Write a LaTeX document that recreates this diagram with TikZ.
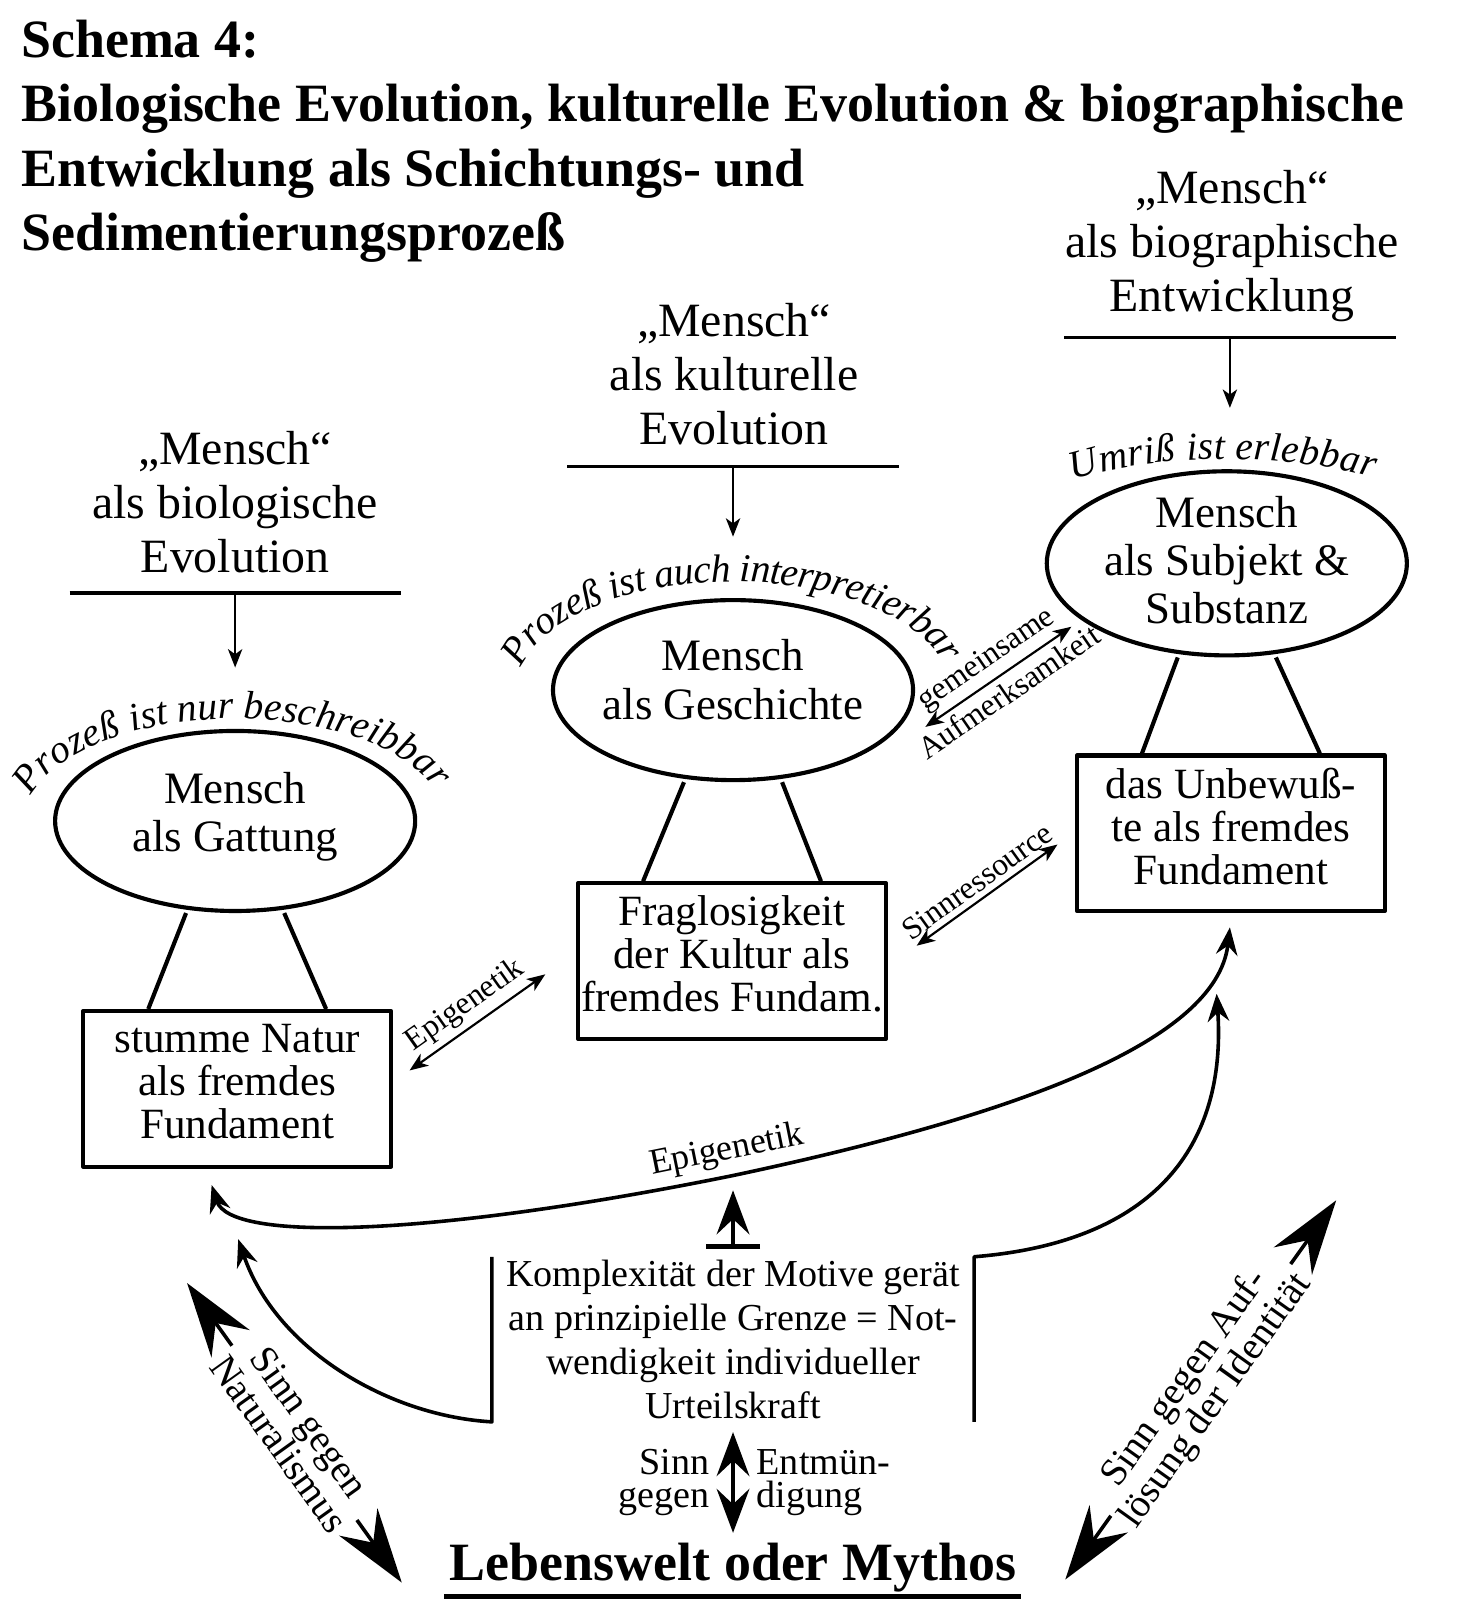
\documentclass[tikz,border=0pt]{standalone}
\usepackage{fontspec}
\setmainfont{Liberation Serif}
\usetikzlibrary{arrows.meta,calc,shapes.geometric,decorations.text}

\begin{document}
\begin{tikzpicture}[x=0.01cm,y=-0.01cm,join=round,
		klein/.tip={Stealth[length=1.8mm,width=1.4mm,inset=.5mm]},
		mittel/.tip={Stealth[length=2.7mm,width=2.1mm,inset=.9mm]},
		spitz/.tip={Stealth[length=4.3mm,width=3.2mm,inset=1.5mm]},
		gross/.tip={Stealth[length=7.3mm,width=4.6mm,inset=2.5mm]},
		kopf/.style={font=\fontsize{13.3}{15}\selectfont,align=center},
		oval/.style={draw,ellipse,line width=1.15pt,minimum width=3.52cm,minimum height=1.76cm,inner xsep=-1.5pt,inner ysep=0pt,font=\fontsize{12.5}{13.4}\selectfont,align=center},
		fund/.style={draw,line width=1.15pt,minimum width=3.01cm,minimum height=1.52cm,inner sep=0pt,font=\fontsize{12}{12}\selectfont,align=center},
		etikett/.style={font=\fontsize{8.8}{9}\selectfont,inner sep=1.5pt},
		schraeg/.style={font=\fontsize{10.8}{10.5}\selectfont,align=center,fill=white,inner sep=1pt,sloped},
		bogentext/.style={decorate,decoration={text effects along path,text={#1},text align=center,
				text effects/.cd,text along path,fit text to path,character widths={inner xsep=0pt},characters={inner xsep=0pt}}}]
	\def\tief#1{\rule[-#1]{0pt}{#1}}
	\useasboundingbox (0,0) rectangle (1430,1565);
	\node[anchor=north west,inner sep=0pt,align=left,font=\bfseries\fontsize{15}{17.9}\selectfont] (titel) at (20,19) {Schema 4:\\Biologische Evolution, kulturelle Evolution \& biographische\\Entwicklung als Schichtungs- und\\Sedimentierungsprozeß};
	\node[kopf] (hbio) at (230,491) {„Mensch“\\als biologische\\Evolution};
	\node[kopf] (hkult) at (718,366) {„Mensch“\\als kulturelle\\Evolution};
	\node[kopf] (hbiog) at (1205,241) {„Mensch“\\als biographische\\Entwicklung};
	\node[oval] (gattung) at (230,803) {Mensch\\als Gattung\tief{5pt}};
	\node[oval] (geschichte) at (717,675) {Mensch\\als Geschichte\tief{6pt}};
	\node[oval,inner ysep=-2pt,minimum height=1.8cm] (subjekt) at (1200,551) {Mensch\\als Subjekt \&\\Substanz\tief{2pt}};
	\node[fund] (natur) at (232,1065) {stumme Natur\\als fremdes\\Fundament\tief{4pt}};
	\node[fund] (kultur) at (716,940) {Fraglosigkeit\\der Kultur als\\fremdes Fundam.\tief{4pt}};
	\node[fund] (unbew) at (1204,815) {das Unbewuß-\\te als fremdes\\Fundament\tief{4pt}};
	\node[font=\fontsize{10.6}{12.2}\selectfont,align=center,inner sep=0pt,minimum width=4.70cm,minimum height=1.60cm] (komplex) at (717,1310) {Komplexität der Motive gerät\\an prinzipielle Grenze = Not-\\wendigkeit individueller\\Urteilskraft};
	\node[font=\bfseries\fontsize{15}{15}\selectfont,inner sep=0pt] (leben) at (717,1533) {Lebenswelt oder Mythos};
	\path
	(230,580) coordinate (s1)
	(717,456) coordinate (s2)
	(1203,330) coordinate (s3)
	($(natur.south)+(-25,16)$) coordinate (e1)
	($(unbew.south)+(-1,14)$) coordinate (e2)
	($(natur.south)+(1,69)$) coordinate (e3)
	($(unbew.south)+(-14,79)$) coordinate (e4)
	($(komplex.north)+(0,-8)$) coordinate (t1)
	(183,1255) coordinate (g1)
	(393,1548) coordinate (g2)
	(1042,1545) coordinate (g3)
	(1307,1174) coordinate (g4)
	(gattung.center) ++(194:205 and 100) coordinate (b1)
	(geschichte.center) ++(192:212 and 106) coordinate (b2)
	(subjekt.center) ++(233:250 and 102) coordinate (b3);
	\foreach \s/\o in {s1/gattung,s2/geschichte,s3/subjekt}{
		\draw[line width=.85pt] ($(\s)+(-162,0)$) -- ($(\s)+(162,0)$);
		\draw[line width=.6pt,-{klein}] (\s) -- ($(\s |- \o.north)+(0,-60)$);
	}
	\foreach \o/\f in {gattung/natur,geschichte/kultur,subjekt/unbew}
	\draw[line width=1.15pt] ($(\o.south)+(-48,0)$) -- ($(\f.north)+(-87,0)$) ($(\o.south)+(48,0)$) -- ($(\f.north)+(87,0)$);
	{\itshape\fontsize{11}{13}\selectfont
		\path[bogentext={Prozeß ist nur beschreibbar}] (b1) arc[start angle=194,end angle=342,x radius=205,y radius=100];
		\path[bogentext={Umriß ist erlebbar}] (b3) arc[start angle=233,end angle=305,x radius=250,y radius=102];
		\path[bogentext={Prozeß ist auch interpretierbar}] (b2) arc[start angle=192,end angle=346,x radius=212,y radius=106];
	}
	\draw[line width=.6pt,{klein}-{klein}] ($(natur.east)+(16,-18)$) -- node[etikett,above,sloped]{Epigenetik} ($(kultur.west)+(-30,13)$);
	\draw[line width=.6pt,{klein}-{klein}] ($(kultur.east)+(28,-15)$) -- node[etikett,above,sloped]{Sinnressource} ($(unbew.west)+(-17,11)$);
	\draw[line width=.6pt,{klein}-{klein}] ($(geschichte.east)+(10,36)$) -- node[etikett,above,sloped]{gemeinsame} node[etikett,below,sloped]{Aufmerksamkeit} ($(subjekt.center)+(-152,62)$);
	\draw[line width=1pt,{mittel}-{mittel}] (e1) .. controls (225,1215) and (420,1210) .. node[pos=1,above,sloped,font=\fontsize{10}{10}\selectfont,inner sep=2pt]{Epigenetik} (716,1150) .. controls (990,1092) and (1190,1020) .. (e2);
	\draw[line width=1pt,-{mittel}] (komplex.north west) -- (komplex.south west) .. controls (380,1385) and (270,1320) .. (e3);
	\draw[line width=1pt,-{mittel}] (komplex.south east) -- (komplex.north east) .. controls (1130,1215) and (1200,1120) .. (e4);
	\draw[line width=1.3pt,{Bar[width=5.3mm]}-{spitz}] (t1) -- ++(0,-57);
	\draw[line width=1.2pt,{spitz}-{spitz}] ($(komplex.south)+(0,10)$) -- node[left,font=\fontsize{10.6}{9.2}\selectfont,align=right,inner xsep=.21cm]{Sinn\\gegen} node[right,font=\fontsize{10.6}{9.2}\selectfont,align=left,inner xsep=.21cm]{Entmün-\\digung} ($(leben.north)+(0,-9)$);
	\draw[line width=1.4pt] ($(leben.south west)+(-5,4)$) -- ($(leben.south east)+(4,4)$);
	\draw[line width=1pt,{gross}-{gross}] (g1) -- node[schraeg]{Sinn gegen\\Naturalismus} (g2);
	\draw[line width=1pt,{gross}-{gross}] (g3) -- node[schraeg]{Sinn gegen Auf-\\lösung der Identität} (g4);
\end{tikzpicture}
\end{document}
